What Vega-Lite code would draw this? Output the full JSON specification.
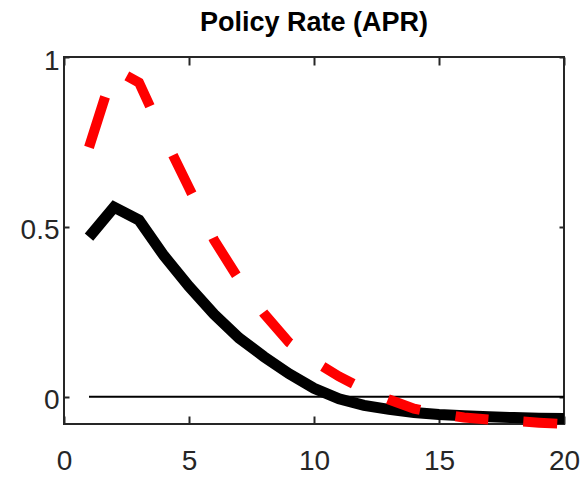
{
  "$schema": "https://vega.github.io/schema/vega-lite/v6.json",
  "width": 500,
  "height": 367,
  "autosize": {"type": "none"},
  "padding": {"left": 64, "top": 57, "right": 20, "bottom": 59},
  "background": "#ffffff",
  "title": {
    "text": "Policy Rate (APR)",
    "font": "Liberation Sans",
    "fontSize": 27,
    "fontWeight": "bold",
    "color": "#000000",
    "baseline": "bottom",
    "anchor": "middle",
    "offset": -17
  },
  "config": {
    "view": {"stroke": "#262626", "strokeWidth": 2}
  },
  "datasets": {
    "zero": [{"start": 1, "end": 20, "y": 0}],
    "irf": [
      {"series": "Black", "h": 1, "value": 0.47},
      {"series": "Black", "h": 2, "value": 0.558},
      {"series": "Black", "h": 3, "value": 0.52},
      {"series": "Black", "h": 4, "value": 0.415},
      {"series": "Black", "h": 5, "value": 0.325},
      {"series": "Black", "h": 6, "value": 0.243},
      {"series": "Black", "h": 7, "value": 0.173},
      {"series": "Black", "h": 8, "value": 0.118},
      {"series": "Black", "h": 9, "value": 0.068},
      {"series": "Black", "h": 10, "value": 0.025},
      {"series": "Black", "h": 11, "value": -0.006},
      {"series": "Black", "h": 12, "value": -0.025},
      {"series": "Black", "h": 13, "value": -0.037},
      {"series": "Black", "h": 14, "value": -0.046},
      {"series": "Black", "h": 15, "value": -0.052},
      {"series": "Black", "h": 16, "value": -0.056},
      {"series": "Black", "h": 17, "value": -0.059},
      {"series": "Black", "h": 18, "value": -0.061},
      {"series": "Black", "h": 19, "value": -0.063},
      {"series": "Black", "h": 20, "value": -0.064},
      {"series": "Red", "h": 1, "value": 0.734},
      {"series": "Red", "h": 2, "value": 0.965},
      {"series": "Red", "h": 3, "value": 0.925},
      {"series": "Red", "h": 4, "value": 0.765},
      {"series": "Red", "h": 5, "value": 0.615},
      {"series": "Red", "h": 6, "value": 0.462},
      {"series": "Red", "h": 7, "value": 0.345},
      {"series": "Red", "h": 8, "value": 0.245},
      {"series": "Red", "h": 9, "value": 0.16},
      {"series": "Red", "h": 10, "value": 0.105},
      {"series": "Red", "h": 11, "value": 0.06},
      {"series": "Red", "h": 12, "value": 0.022},
      {"series": "Red", "h": 13, "value": -0.008},
      {"series": "Red", "h": 14, "value": -0.035},
      {"series": "Red", "h": 15, "value": -0.05},
      {"series": "Red", "h": 16, "value": -0.061},
      {"series": "Red", "h": 17, "value": -0.067},
      {"series": "Red", "h": 18, "value": -0.071},
      {"series": "Red", "h": 19, "value": -0.076},
      {"series": "Red", "h": 20, "value": -0.08}
    ]
  },
  "layer": [
    {
      "data": {"name": "zero"},
      "mark": {"type": "rule", "color": "#000000", "strokeWidth": 2},
      "encoding": {
        "x": {
          "field": "start", "type": "quantitative",
          "scale": {"domain": [0, 20], "nice": false, "zero": false},
          "axis": {
            "orient": "bottom", "values": [0, 5, 10, 15, 20], "title": null,
            "domain": false, "grid": false, "ticks": true, "tickSize": -8,
            "tickColor": "#262626", "tickWidth": 2,
            "labelFont": "Liberation Sans", "labelFontSize": 28,
            "labelColor": "#262626", "labelPadding": 31,
            "labelFlush": false, "labelOverlap": false, "labelBound": false
          }
        },
        "x2": {"field": "end"},
        "y": {
          "field": "y", "type": "quantitative",
          "scale": {"domain": [-0.08, 1], "nice": false, "zero": false},
          "axis": {
            "orient": "left", "values": [0, 0.5, 1], "format": "~g", "title": null,
            "domain": false, "grid": false, "ticks": true, "tickSize": -5,
            "tickColor": "#262626", "tickWidth": 2,
            "labelFont": "Liberation Sans", "labelFontSize": 28,
            "labelColor": "#262626", "labelPadding": 10, "labelOffset": 4,
            "labelFlush": false, "labelOverlap": false, "labelBound": false
          }
        }
      }
    },
    {
      "data": {"name": "irf"},
      "transform": [{"filter": "datum.series == 'Black'"}],
      "mark": {"type": "line", "color": "#000000", "strokeWidth": 11, "strokeJoin": "miter", "strokeCap": "butt"},
      "encoding": {
        "x": {
          "field": "h", "type": "quantitative",
          "axis": {
            "orient": "top", "values": [0, 5, 10, 15, 20], "title": null,
            "domain": false, "grid": false, "labels": false, "ticks": true,
            "tickSize": -8, "tickColor": "#262626", "tickWidth": 2
          }
        },
        "y": {
          "field": "value", "type": "quantitative",
          "axis": {
            "orient": "right", "values": [0, 0.5, 1], "title": null,
            "domain": false, "grid": false, "labels": false, "ticks": true,
            "tickSize": -5, "tickColor": "#262626", "tickWidth": 2
          }
        }
      }
    },
    {
      "data": {"name": "irf"},
      "transform": [{"filter": "datum.series == 'Red'"}],
      "mark": {"type": "line", "color": "#ff0000", "strokeWidth": 10, "strokeDash": [53, 44, 40, 54, 43, 49, 44, 46, 41, 40, 35, 38, 34, 36, 33, 35, 34, 60], "strokeCap": "butt"},
      "encoding": {
        "x": {"field": "h", "type": "quantitative", "axis": null},
        "y": {"field": "value", "type": "quantitative", "axis": null}
      }
    }
  ],
  "resolve": {"axis": {"x": "independent", "y": "independent"}}
}
